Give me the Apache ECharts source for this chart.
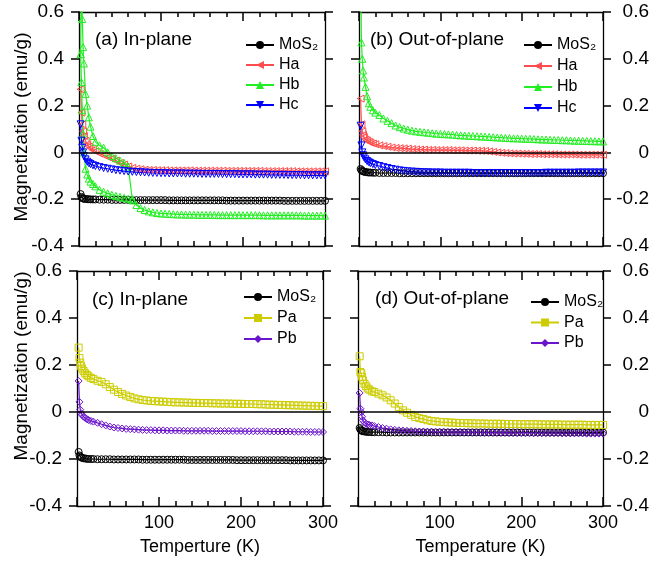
<!DOCTYPE html>
<html>
<head>
<meta charset="utf-8">
<script src="https://cdn.jsdelivr.net/npm/echarts@6/dist/echarts.min.js"></script>
<style>
  html, body { margin: 0; background: #fff; }
  #chart { width: 652px; height: 563px; }
</style>
</head>
<body>
<div id="chart"></div>
<script>
// temperature points (K), shared by all curves
const temps = [2, 3, 4, 5, 6, 8, 10, 12, 14, 17,
  20, 25, 30, 35, 40, 45, 50, 55, 60, 65,
  70, 75, 80, 85, 90, 95, 100, 105, 110, 115,
  120, 125, 130, 135, 140, 145, 150, 155, 160, 165,
  170, 175, 180, 185, 190, 195, 200, 205, 210, 215,
  220, 225, 230, 235, 240, 245, 250, 255, 260, 265,
  270, 275, 280, 285, 290, 295, 300];

/* (a) In-plane */
const mosA = [-0.178, -0.190, -0.195, -0.197, -0.198, -0.199, -0.200, -0.200, -0.201, -0.201,
  -0.201, -0.202, -0.202, -0.202, -0.203, -0.203, -0.203, -0.203, -0.203, -0.204,
  -0.204, -0.204, -0.204, -0.204, -0.204, -0.204, -0.204, -0.204, -0.205, -0.205,
  -0.205, -0.205, -0.205, -0.205, -0.205, -0.205, -0.205, -0.205, -0.205, -0.205,
  -0.205, -0.205, -0.206, -0.206, -0.206, -0.206, -0.206, -0.206, -0.206, -0.206,
  -0.206, -0.206, -0.206, -0.206, -0.206, -0.206, -0.207, -0.207, -0.207, -0.207,
  -0.207, -0.207, -0.207, -0.207, -0.207, -0.207, -0.207];
const haA = [0.270, 0.170, 0.120, 0.090, 0.070, 0.050, 0.035, 0.025, 0.018, 0.010,
  0.005, -0.005, -0.012, -0.020, -0.027, -0.035, -0.045, -0.052, -0.060, -0.066,
  -0.070, -0.072, -0.074, -0.075, -0.075, -0.076, -0.076, -0.076, -0.077, -0.077,
  -0.077, -0.077, -0.077, -0.077, -0.078, -0.078, -0.078, -0.078, -0.078, -0.078,
  -0.078, -0.078, -0.079, -0.079, -0.079, -0.079, -0.079, -0.079, -0.079, -0.079,
  -0.079, -0.080, -0.080, -0.080, -0.080, -0.080, -0.080, -0.080, -0.080, -0.081,
  -0.081, -0.081, -0.081, -0.081, -0.081, -0.081, -0.081];
const hbA = [0.420, 0.750, 0.570, 0.450, 0.380, 0.250, 0.200, 0.150, 0.110, 0.070,
  0.045, 0.030, 0.020, 0.000, -0.015, -0.025, -0.035, -0.045, -0.060, -0.200,
  -0.225, -0.238, -0.246, -0.252, -0.256, -0.259, -0.261, -0.262, -0.263, -0.264,
  -0.265, -0.265, -0.266, -0.266, -0.266, -0.267, -0.267, -0.267, -0.267, -0.267,
  -0.268, -0.268, -0.268, -0.268, -0.268, -0.268, -0.268, -0.268, -0.268, -0.268,
  -0.268, -0.269, -0.269, -0.269, -0.269, -0.269, -0.269, -0.269, -0.269, -0.269,
  -0.269, -0.270, -0.270, -0.270, -0.270, -0.270, -0.270];
// second Hb branch, only 2-65 K
const hbA2 = [0.420, 0.300, 0.180, 0.080, 0.000, -0.070, -0.095, -0.112, -0.125, -0.135,
  -0.145, -0.160, -0.168, -0.175, -0.181, -0.186, -0.190, -0.194, -0.198, -0.205];
const hcA = [0.120, 0.050, 0.020, 0.000, -0.015, -0.030, -0.040, -0.046, -0.050, -0.055,
  -0.058, -0.063, -0.067, -0.070, -0.073, -0.076, -0.078, -0.080, -0.082, -0.083,
  -0.084, -0.085, -0.086, -0.087, -0.088, -0.088, -0.089, -0.089, -0.090, -0.090,
  -0.090, -0.090, -0.091, -0.091, -0.091, -0.091, -0.092, -0.092, -0.092, -0.092,
  -0.092, -0.093, -0.093, -0.093, -0.093, -0.094, -0.094, -0.094, -0.094, -0.095,
  -0.095, -0.095, -0.095, -0.096, -0.096, -0.096, -0.096, -0.097, -0.097, -0.097,
  -0.097, -0.098, -0.098, -0.098, -0.098, -0.098, -0.098];

/* (b) Out-of-plane */
const mosB = [-0.071, -0.076, -0.079, -0.081, -0.082, -0.084, -0.085, -0.086, -0.086, -0.087,
  -0.087, -0.088, -0.088, -0.088, -0.088, -0.088, -0.089, -0.089, -0.089, -0.089,
  -0.089, -0.089, -0.089, -0.089, -0.089, -0.089, -0.089, -0.089, -0.089, -0.089,
  -0.089, -0.089, -0.089, -0.089, -0.089, -0.089, -0.089, -0.089, -0.089, -0.089,
  -0.089, -0.089, -0.089, -0.089, -0.089, -0.089, -0.089, -0.089, -0.089, -0.089,
  -0.089, -0.089, -0.089, -0.089, -0.089, -0.089, -0.089, -0.089, -0.089, -0.089,
  -0.089, -0.089, -0.089, -0.089, -0.089, -0.089, -0.089];
const haB = [0.230, 0.120, 0.090, 0.075, 0.065, 0.055, 0.050, 0.045, 0.042, 0.038,
  0.035, 0.030, 0.027, 0.024, 0.021, 0.019, 0.018, 0.017, 0.016, 0.014,
  0.013, 0.012, 0.012, 0.011, 0.011, 0.010, 0.010, 0.010, 0.010, 0.009,
  0.009, 0.009, 0.008, 0.008, 0.008, 0.007, 0.007, 0.006, 0.004, 0.002,
  0.000, -0.002, -0.003, -0.004, -0.005, -0.005, -0.006, -0.006, -0.007, -0.007,
  -0.007, -0.008, -0.008, -0.008, -0.008, -0.009, -0.009, -0.009, -0.009, -0.009,
  -0.010, -0.010, -0.010, -0.010, -0.010, -0.010, -0.010];
const hbB = [0.800, 0.470, 0.400, 0.350, 0.320, 0.280, 0.240, 0.210, 0.195, 0.180,
  0.170, 0.160, 0.145, 0.135, 0.125, 0.115, 0.108, 0.102, 0.097, 0.093,
  0.090, 0.088, 0.086, 0.084, 0.082, 0.080, 0.079, 0.078, 0.077, 0.076,
  0.074, 0.073, 0.072, 0.071, 0.070, 0.069, 0.068, 0.067, 0.066, 0.065,
  0.064, 0.063, 0.062, 0.061, 0.060, 0.060, 0.059, 0.058, 0.058, 0.057,
  0.056, 0.055, 0.055, 0.054, 0.053, 0.053, 0.052, 0.052, 0.051, 0.050,
  0.050, 0.049, 0.049, 0.048, 0.048, 0.047, 0.047];
const hcB = [0.114, 0.030, 0.000, -0.012, -0.020, -0.030, -0.037, -0.042, -0.046, -0.050,
  -0.054, -0.058, -0.063, -0.067, -0.071, -0.074, -0.077, -0.079, -0.081, -0.082,
  -0.083, -0.084, -0.085, -0.085, -0.086, -0.086, -0.086, -0.087, -0.087, -0.087,
  -0.087, -0.087, -0.087, -0.087, -0.088, -0.088, -0.088, -0.088, -0.088, -0.088,
  -0.088, -0.088, -0.088, -0.088, -0.088, -0.088, -0.088, -0.088, -0.088, -0.088,
  -0.088, -0.088, -0.087, -0.087, -0.087, -0.087, -0.087, -0.087, -0.087, -0.087,
  -0.086, -0.086, -0.086, -0.086, -0.086, -0.086, -0.086];

/* (c) In-plane */
const mosC = [-0.170, -0.185, -0.190, -0.193, -0.195, -0.197, -0.198, -0.199, -0.200, -0.200,
  -0.200, -0.201, -0.201, -0.201, -0.201, -0.202, -0.202, -0.202, -0.202, -0.202,
  -0.202, -0.202, -0.203, -0.203, -0.203, -0.203, -0.203, -0.203, -0.203, -0.203,
  -0.203, -0.203, -0.203, -0.204, -0.204, -0.204, -0.204, -0.204, -0.204, -0.204,
  -0.204, -0.204, -0.204, -0.204, -0.204, -0.205, -0.205, -0.205, -0.205, -0.205,
  -0.205, -0.205, -0.205, -0.205, -0.205, -0.205, -0.205, -0.205, -0.206, -0.206,
  -0.206, -0.206, -0.206, -0.206, -0.206, -0.206, -0.206];
const paC = [0.274, 0.230, 0.210, 0.195, 0.185, 0.175, 0.165, 0.158, 0.152, 0.145,
  0.140, 0.133, 0.128, 0.118, 0.106, 0.095, 0.085, 0.077, 0.070, 0.064,
  0.058, 0.054, 0.051, 0.049, 0.047, 0.046, 0.045, 0.044, 0.043, 0.042,
  0.041, 0.041, 0.040, 0.040, 0.039, 0.039, 0.038, 0.038, 0.038, 0.037,
  0.037, 0.036, 0.036, 0.036, 0.035, 0.035, 0.035, 0.034, 0.034, 0.034,
  0.033, 0.033, 0.032, 0.031, 0.031, 0.030, 0.030, 0.029, 0.029, 0.028,
  0.028, 0.027, 0.027, 0.026, 0.026, 0.025, 0.025];
const pbC = [0.132, 0.043, 0.010, -0.005, -0.012, -0.020, -0.025, -0.030, -0.034, -0.038,
  -0.041, -0.046, -0.052, -0.057, -0.062, -0.066, -0.068, -0.070, -0.072, -0.073,
  -0.074, -0.075, -0.076, -0.077, -0.077, -0.078, -0.078, -0.078, -0.079, -0.079,
  -0.079, -0.079, -0.080, -0.080, -0.080, -0.080, -0.080, -0.080, -0.080, -0.081,
  -0.081, -0.081, -0.081, -0.081, -0.081, -0.081, -0.081, -0.082, -0.082, -0.082,
  -0.082, -0.082, -0.082, -0.083, -0.083, -0.083, -0.083, -0.083, -0.083, -0.084,
  -0.084, -0.084, -0.084, -0.085, -0.085, -0.085, -0.085];

/* (d) Out-of-plane */
const mosD = [-0.068, -0.074, -0.078, -0.080, -0.082, -0.083, -0.084, -0.085, -0.085, -0.086,
  -0.086, -0.086, -0.086, -0.087, -0.087, -0.087, -0.087, -0.087, -0.087, -0.087,
  -0.087, -0.087, -0.087, -0.087, -0.087, -0.087, -0.087, -0.087, -0.087, -0.087,
  -0.087, -0.087, -0.087, -0.087, -0.087, -0.087, -0.087, -0.087, -0.087, -0.087,
  -0.087, -0.087, -0.087, -0.087, -0.087, -0.087, -0.087, -0.087, -0.087, -0.087,
  -0.087, -0.087, -0.087, -0.087, -0.087, -0.087, -0.087, -0.087, -0.087, -0.087,
  -0.087, -0.087, -0.087, -0.087, -0.087, -0.087, -0.087];
const paD = [0.237, 0.170, 0.165, 0.150, 0.135, 0.120, 0.110, 0.100, 0.095, 0.088,
  0.085, 0.078, 0.071, 0.062, 0.050, 0.036, 0.021, 0.007, -0.003, -0.012,
  -0.021, -0.026, -0.030, -0.035, -0.038, -0.040, -0.042, -0.043, -0.044, -0.045,
  -0.046, -0.047, -0.047, -0.048, -0.048, -0.049, -0.049, -0.049, -0.050, -0.050,
  -0.050, -0.050, -0.051, -0.051, -0.051, -0.051, -0.052, -0.052, -0.052, -0.052,
  -0.052, -0.053, -0.053, -0.053, -0.053, -0.053, -0.054, -0.054, -0.054, -0.054,
  -0.054, -0.054, -0.055, -0.055, -0.055, -0.055, -0.055];
const pbD = [0.081, 0.014, 0.000, -0.020, -0.035, -0.045, -0.050, -0.053, -0.055, -0.057,
  -0.060, -0.064, -0.068, -0.071, -0.074, -0.076, -0.078, -0.079, -0.080, -0.081,
  -0.082, -0.083, -0.083, -0.084, -0.084, -0.085, -0.085, -0.085, -0.086, -0.086,
  -0.086, -0.086, -0.087, -0.087, -0.087, -0.087, -0.087, -0.088, -0.088, -0.088,
  -0.088, -0.088, -0.088, -0.089, -0.089, -0.089, -0.089, -0.089, -0.089, -0.090,
  -0.090, -0.090, -0.090, -0.090, -0.090, -0.090, -0.091, -0.091, -0.091, -0.091,
  -0.091, -0.091, -0.092, -0.092, -0.092, -0.092, -0.092];

const FONT = '"Liberation Sans", Arial, sans-serif';
const colors = {
  'MoS₂': '#000000', Ha: '#ff4d4d', Hb: '#22ee22', Hc: '#0000ff', Pa: '#cccc00', Pb: '#6a14cc'
};
const symbols = {
  'MoS₂': ['circle', 0], Ha: ['triangle', 90], Hb: ['triangle', 0], Hc: ['triangle', 180],
  Pa: ['rect', 0], Pb: ['diamond', 0]
};

const grids = [
  {left: 79, top: 12, width: 246, height: 234},
  {left: 359, top: 12, width: 245, height: 234},
  {left: 77, top: 271, width: 246, height: 235},
  {left: 358, top: 271, width: 246, height: 235}
];

function xAx(g, pos, labels, name) {
  return {
    type: 'value', gridIndex: g, position: pos, min: 0, max: 300, interval: 100,
    axisLine: {show: true, onZero: false, lineStyle: {color: '#000', width: 1.3}},
    axisTick: {show: true, inside: true, length: 9, lineStyle: {color: '#000', width: 1.5}},
    minorTick: {show: true, splitNumber: 5, length: 5, lineStyle: {color: '#000', width: 1.5}},
    splitLine: {show: false},
    axisLabel: {show: labels, fontSize: 18, color: '#000', margin: 8, fontFamily: FONT,
      formatter: v => (v === 0 ? '' : v)},
    name: name || '', nameLocation: 'middle', nameGap: 32,
    nameTextStyle: {fontSize: 18, color: '#000', fontFamily: FONT}
  };
}

function yAx(g, pos, labels) {
  return {
    type: 'value', gridIndex: g, position: pos, min: -0.4, max: 0.6, interval: 0.2,
    axisLine: {show: true, onZero: false, lineStyle: {color: '#000', width: 1.3}},
    axisTick: {show: true, inside: false, length: 8, lineStyle: {color: '#000', width: 1.5}},
    splitLine: {show: false},
    axisLabel: {show: labels, fontSize: 19, color: '#000', fontFamily: FONT,
      margin: pos === 'left' ? 15 : 46, align: 'right'}
  };
}

function curve(name, g, vals, xs, zero) {
  const col = colors[name];
  const s = {
    name: name, type: 'line', xAxisIndex: g * 2, yAxisIndex: g * 2,
    data: vals.map((v, i) => [xs[i], v]),
    symbol: symbols[name][0], symbolRotate: symbols[name][1], symbolSize: 7,
    itemStyle: {color: 'rgba(0,0,0,0)', borderColor: col, borderWidth: 1},
    lineStyle: {color: col, width: 1.2}
  };
  if (zero) {
    s.markLine = {
      silent: true, symbol: ['none', 'none'], label: {show: false},
      lineStyle: {color: '#000', width: 1.5, type: 'solid'},
      data: [{yAxis: 0}]
    };
  }
  return s;
}

function legendFor(names, left, top, gap) {
  return {
    orient: 'vertical', left: left, top: top, itemGap: gap, itemWidth: 28, itemHeight: 10,
    padding: 0,
    textStyle: {fontSize: 16, color: '#000', fontFamily: FONT, lineHeight: 13},
    data: names.map(n => ({name: n, itemStyle: {color: colors[n], borderWidth: 0}}))
  };
}

const titleStyle = {fontSize: 19, fontWeight: 'normal', color: '#000', fontFamily: FONT};

let myChart = echarts.init(document.getElementById('chart'));
myChart.setOption({
  animation: false,
  grid: grids,
  title: [
    {text: '(a) In-plane', left: 95, top: 30, padding: 0, textStyle: titleStyle},
    {text: '(b) Out-of-plane', left: 370, top: 30, padding: 0, textStyle: titleStyle},
    {text: '(c) In-plane', left: 92, top: 290, padding: 0, textStyle: titleStyle},
    {text: '(d) Out-of-plane', left: 375, top: 289, padding: 0, textStyle: titleStyle}
  ],
  legend: [
    legendFor(['MoS₂', 'Ha', 'Hb', 'Hc'], 245, 37, 4),
    legendFor(['MoS₂', 'Ha', 'Hb', 'Hc'], 523, 37, 5),
    legendFor(['MoS₂', 'Pa', 'Pb'], 243, 289, 5),
    legendFor(['MoS₂', 'Pa', 'Pb'], 530, 294, 4.5)
  ],
  xAxis: [
    xAx(0, 'bottom', false), xAx(0, 'top', false),
    xAx(1, 'bottom', false), xAx(1, 'top', false),
    xAx(2, 'bottom', true, 'Temperture (K)'), xAx(2, 'top', false),
    xAx(3, 'bottom', true, 'Temperature (K)'), xAx(3, 'top', false)
  ],
  yAxis: [
    yAx(0, 'left', true), yAx(0, 'right', false),
    yAx(1, 'left', false), yAx(1, 'right', true),
    yAx(2, 'left', true), yAx(2, 'right', false),
    yAx(3, 'left', false), yAx(3, 'right', true)
  ],
  graphic: [
    {type: 'text', x: 22, y: 127, rotation: Math.PI / 2,
      style: {text: 'Magnetization (emu/g)', font: '19px ' + FONT, fill: '#000',
        textAlign: 'center', textVerticalAlign: 'middle'}},
    {type: 'text', x: 22, y: 366, rotation: Math.PI / 2,
      style: {text: 'Magnetization (emu/g)', font: '19px ' + FONT, fill: '#000',
        textAlign: 'center', textVerticalAlign: 'middle'}}
  ],
  series: [
    curve('MoS₂', 0, mosA, temps, true),
    curve('Ha', 0, haA, temps),
    curve('Hb', 0, hbA, temps),
    curve('Hb', 0, hbA2, temps),
    curve('Hc', 0, hcA, temps),
    curve('MoS₂', 1, mosB, temps, true),
    curve('Ha', 1, haB, temps),
    curve('Hb', 1, hbB, temps),
    curve('Hc', 1, hcB, temps),
    curve('MoS₂', 2, mosC, temps, true),
    curve('Pa', 2, paC, temps),
    curve('Pb', 2, pbC, temps),
    curve('MoS₂', 3, mosD, temps, true),
    curve('Pa', 3, paD, temps),
    curve('Pb', 3, pbD, temps)
  ]
});
</script>
</body>
</html>
